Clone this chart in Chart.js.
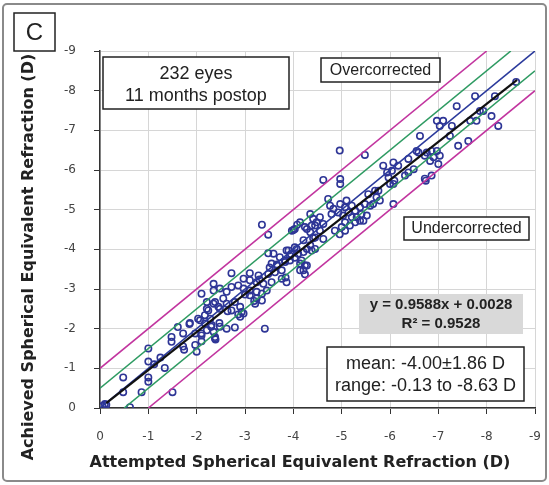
<!DOCTYPE html>
<html>
<head>
<meta charset="utf-8">
<script src="https://cdn.jsdelivr.net/npm/chart.js@4"></script>
<style>
  html, body { margin: 0; padding: 0; background: #fff; }
  #wrap { width: 549px; height: 485px; position: relative; }
</style>
</head>
<body>
<div id="wrap"><canvas id="chart"></canvas></div>
<script>
// attempted (x) vs achieved (y) spherical equivalent, dioptres
const attempted = [
  -0.05, -0.10, -0.13, -0.48, -0.48, -0.62, -0.86, -1.00, -1.00, -1.00,
  -1.00, -1.12, -1.25, -1.34, -1.50, -1.48, -1.48, -1.61, -1.72, -1.72,
  -1.86, -1.97, -1.97, -2.00, -2.03, -2.10, -2.10, -2.17, -2.24, -2.30,
  -2.35, -2.35, -2.38, -2.35, -2.45, -2.47, -1.74, -1.85, -2.10, -2.39,
  -2.35, -2.48, -2.62, -2.72, -2.86, -2.97, -3.10, -3.24, -3.35, -3.45,
  -3.10, -3.24, -3.35, -3.21, -2.21, -2.38, -2.55, -2.62, -2.79, -2.90,
  -2.93, -2.72, -2.21, -2.48, -2.17, -2.28, -2.07, -2.31, -2.21, -2.48,
  -2.62, -2.79, -2.38, -2.10, -2.90, -2.97, -3.41, -2.72, -3.10, -3.28,
  -3.48, -3.62, -3.76, -2.97, -3.10, -3.24, -3.38, -3.55, -3.76, -3.86,
  -3.35, -3.48, -3.48, -3.59, -3.72, -3.83, -3.93, -4.03, -4.14, -4.28,
  -3.66, -3.55, -3.90, -4.07, -4.21, -4.35, -4.45, -4.00, -4.08, -4.28,
  -4.45, -4.45, -4.21, -4.24, -3.84, -4.96, -5.48, -5.86, -6.07, -6.17,
  -6.04, -5.97, -6.00, -6.07, -4.62, -4.97, -4.97, -5.55, -5.69, -5.72,
  -5.79, -6.07, -4.72, -4.76, -4.83, -4.79, -4.97, -5.07, -5.10, -5.21,
  -5.28, -5.38, -5.41, -5.48, -5.59, -4.93, -5.03, -5.14, -5.21, -5.31,
  -5.38, -5.07, -5.00, -5.17, -5.28, -5.52, -5.45, -4.35, -4.41, -4.48,
  -4.55, -4.38, -4.62, -4.24, -4.14, -4.03, -3.97, -4.55, -4.35, -4.62,
  -4.41, -4.21, -3.86, -3.93, -4.03, -4.10, -4.17, -4.24, -4.28, -4.38,
  -3.83, -4.14, -4.86, -4.96, -5.07, -5.65, -5.76, -5.94, -6.09, -8.61,
  -7.76, -8.17, -7.38, -7.86, -7.93, -8.10, -8.24, -7.79, -6.97, -7.10,
  -7.03, -7.28, -7.66, -6.62, -7.24, -7.41, -7.62, -6.55, -6.76, -6.86,
  -6.97, -7.03, -6.90, -6.72, -6.83, -7.00, -6.38, -6.49, -6.59, -6.31,
  -6.72, -6.86, -6.38, -6.74, -3.00, -3.19, -3.30, -3.51, -3.66, -3.95,
  -2.64, -2.86
];
const achieved = [
  -0.05, -0.10, -0.08, -0.77, -0.40, -0.02, -0.40, -1.50, -1.17, -0.77,
  -0.66, -1.10, -1.27, -1.01, -0.40, -1.79, -1.67, -2.04, -1.88, -1.55,
  -2.14, -1.88, -1.59, -1.42, -2.25, -1.88, -2.88, -2.13, -2.46, -2.05,
  -3.13, -2.63, -1.75, -1.92, -2.55, -2.14, -1.47, -2.12, -1.68, -1.73,
  -2.96, -3.01, -2.93, -3.05, -3.09, -3.01, -2.96, -2.93, -2.88, -2.96,
  -2.84, -2.76, -2.71, -2.63, -2.67, -2.67, -2.76, -2.63, -2.67, -2.55,
  -2.42, -2.46, -2.50, -2.50, -2.34, -2.25, -2.21, -2.09, -1.96, -2.05,
  -2.00, -2.03, -1.79, -1.83, -2.30, -2.38, -2.00, -3.40, -3.40, -3.34,
  -3.38, -3.42, -3.47, -3.26, -3.22, -3.17, -3.13, -3.17, -3.26, -3.17,
  -4.62, -4.37, -3.90, -3.89, -3.80, -3.68, -3.72, -3.79, -3.64, -3.59,
  -3.59, -3.64, -3.97, -4.01, -3.93, -4.10, -4.01, -4.49, -4.62, -4.51,
  -4.60, -4.30, -3.47, -3.37, -3.29, -6.49, -6.38, -6.11, -6.19, -6.11,
  -5.98, -5.81, -5.65, -5.65, -5.75, -5.77, -5.65, -5.39, -5.48, -5.31,
  -5.23, -5.14, -5.27, -5.10, -5.02, -4.89, -5.14, -5.06, -5.23, -5.10,
  -4.97, -5.06, -4.89, -5.14, -5.10, -4.93, -4.85, -4.93, -4.81, -4.81,
  -4.72, -4.68, -4.56, -4.60, -4.68, -4.85, -4.72, -4.89, -4.77, -4.68,
  -4.81, -4.60, -4.64, -4.56, -4.68, -4.51, -4.47, -4.47, -4.43, -4.26,
  -4.28, -4.23, -3.97, -3.84, -4.05, -3.89, -3.72, -3.59, -4.01, -3.97,
  -3.72, -3.47, -4.47, -4.38, -4.47, -5.14, -5.48, -5.94, -5.73, -8.22,
  -7.86, -7.86, -7.61, -7.49, -7.49, -7.36, -7.11, -7.24, -7.24, -7.24,
  -7.11, -7.11, -7.24, -6.86, -6.86, -6.61, -6.73, -6.48, -6.44, -6.48,
  -6.48, -6.36, -6.32, -6.36, -6.23, -6.15, -6.28, -6.02, -6.44, -5.86,
  -5.78, -5.86, -5.94, -5.73, -2.86, -2.70, -3.24, -3.54, -3.62, -3.88,
  -2.44, -2.36
];

// reference lines: y = x, +/-0.5 D and +/-1.0 D bands
const perfectLine = [{ x: 0, y: 0 }, { x: -9, y: -9 }];
const greenUpper = [{ x: 0, y: -0.5 }, { x: -8.5, y: -9 }];
const greenLower = [{ x: -0.5, y: 0 }, { x: -9, y: -8.5 }];
const magentaUpper = [{ x: 0, y: -1 }, { x: -8, y: -9 }];
const magentaLower = [{ x: -1, y: 0 }, { x: -9, y: -8 }];
// regression y = 0.9588x + 0.0028 across the data range
const regressionLine = [{ x: -0.13, y: -0.122 }, { x: -8.63, y: -8.272 }];

const axisTicks = [0, -1, -2, -3, -4, -5, -6, -7, -8, -9];

const points = attempted.map((x, i) => ({ x, y: achieved[i] }));

function lineSet(data, color, width, order) {
  return {
    type: 'line',
    data,
    borderColor: color,
    borderWidth: width,
    pointRadius: 0,
    fill: false,
    order,
  };
}

function box(ctx, x, y, w, h, fill, stroke) {
  ctx.fillStyle = fill;
  ctx.fillRect(x, y, w, h);
  if (stroke) {
    ctx.strokeStyle = stroke;
    ctx.lineWidth = 1.5;
    ctx.strokeRect(x, y, w, h);
  }
}

function textAt(ctx, str, x, y, font) {
  ctx.font = font;
  ctx.fillStyle = '#222';
  ctx.textAlign = 'center';
  ctx.textBaseline = 'middle';
  ctx.fillText(str, x, y);
}

const decorations = {
  id: 'decorations',
  beforeDraw(chart) {
    const ctx = chart.ctx;
    ctx.save();
    ctx.fillStyle = '#fff';
    ctx.fillRect(0, 0, chart.width, chart.height);
    ctx.strokeStyle = '#8a8a8a';
    ctx.lineWidth = 2;
    ctx.beginPath();
    ctx.roundRect(3, 4, 543, 477, 4);
    ctx.stroke();
    ctx.restore();
  },
  afterDraw(chart) {
    const ctx = chart.ctx;
    ctx.save();
    // panel letter
    box(ctx, 14, 13, 41, 38, '#fff', '#222');
    textAt(ctx, 'C', 34.5, 33, '24px "Liberation Sans"');

    box(ctx, 103, 57, 186, 52, '#fff', '#222');
    textAt(ctx, '232 eyes', 196, 74, '18px "Liberation Sans"');
    textAt(ctx, '11 months postop', 196, 96, '18px "Liberation Sans"');

    box(ctx, 321, 58, 119, 24, '#fff', '#222');
    textAt(ctx, 'Overcorrected', 380.5, 70.5, '16px "Liberation Sans"');

    box(ctx, 404, 217, 125, 23, '#fff', '#222');
    textAt(ctx, 'Undercorrected', 466.5, 228.5, '16px "Liberation Sans"');

    box(ctx, 359, 294, 164, 40, '#d9d9d9', null);
    textAt(ctx, 'y = 0.9588x + 0.0028', 441, 305, 'bold 15px "Liberation Sans"');
    textAt(ctx, 'R² = 0.9528', 441, 324, 'bold 15px "Liberation Sans"');

    box(ctx, 327, 347, 197, 54, '#fff', '#222');
    textAt(ctx, 'mean: -4.00±1.86 D', 425.5, 364.5, '18px "Liberation Sans"');
    textAt(ctx, 'range: -0.13 to -8.63 D', 425.5, 386, '18px "Liberation Sans"');

    // axis titles
    textAt(ctx, 'Attempted Spherical Equivalent Refraction (D)', 300, 463, 'bold 16px "DejaVu Sans"');
    ctx.translate(29, 257);
    ctx.rotate(-Math.PI / 2);
    textAt(ctx, 'Achieved Spherical Equivalent Refraction (D)', 0, 0, 'bold 16px "DejaVu Sans"');
    ctx.restore();
  },
};

const tickFont = { family: 'DejaVu Sans', size: 12 };

new Chart(document.getElementById('chart'), {
  type: 'scatter',
  data: {
    datasets: [
      {
        data: points,
        pointRadius: 3.2,
        pointBorderWidth: 1.6,
        pointBorderColor: '#2e3596',
        pointBackgroundColor: 'rgba(255,255,255,0)',
        order: 3,
      },
      lineSet(magentaUpper, '#c2359f', 1.6, 2),
      lineSet(magentaLower, '#c2359f', 1.6, 2),
      lineSet(greenUpper, '#2e9b62', 1.6, 2),
      lineSet(greenLower, '#2e9b62', 1.6, 2),
      lineSet(perfectLine, '#2b3a9c', 1.6, 1),
      lineSet(regressionLine, '#111', 2.2, 0),
    ],
  },
  options: {
    responsive: true,
    maintainAspectRatio: false,
    animation: false,
    layout: { padding: { left: 0, top: 51, right: 14, bottom: 0 } },
    plugins: { legend: { display: false }, tooltip: { enabled: false } },
    scales: {
      x: {
        type: 'linear',
        min: -9,
        max: 0,
        reverse: true,
        afterBuildTicks: s => { s.ticks = axisTicks.map(v => ({ value: v })); },
        afterFit: s => { s.height = 77; s.paddingLeft = 0; s.paddingRight = 0; },
        ticks: { color: '#444', font: tickFont, padding: 16, maxRotation: 0 },
        grid: { color: '#d6d6d6', lineWidth: 1, tickLength: 6, tickColor: '#333' },
        border: { color: '#333', width: 1.5 },
      },
      y: {
        type: 'linear',
        min: -9,
        max: 0,
        reverse: true,
        afterBuildTicks: s => { s.ticks = axisTicks.map(v => ({ value: v })); },
        afterFit: s => { s.width = 100; },
        ticks: { color: '#444', font: tickFont, padding: 18 },
        grid: { color: '#d6d6d6', lineWidth: 1, tickLength: 6, tickColor: '#333' },
        border: { color: '#333', width: 1.5 },
      },
    },
  },
  plugins: [decorations],
});
</script>
</body>
</html>
